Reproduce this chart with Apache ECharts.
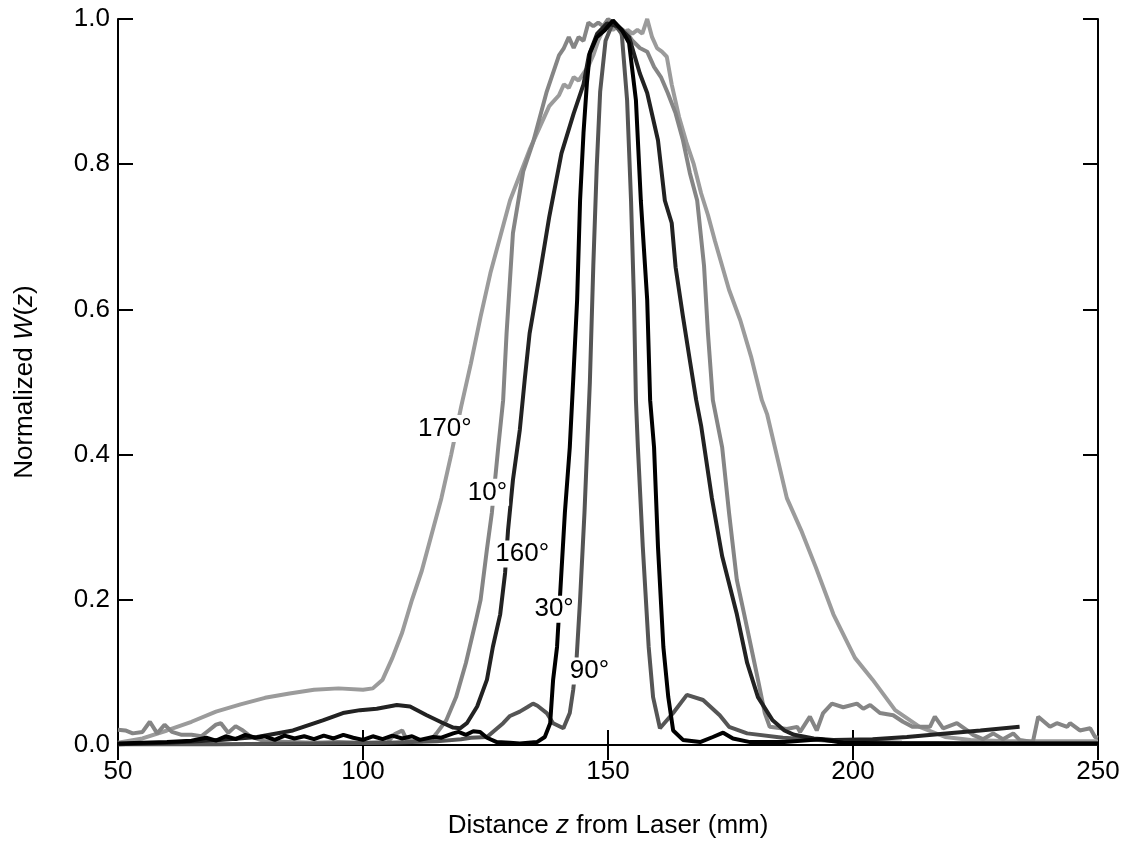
<!DOCTYPE html>
<html>
<head>
<meta charset="utf-8">
<script src="https://cdn.jsdelivr.net/npm/echarts@6/dist/echarts.min.js"></script>
<style>
  html, body { margin: 0; padding: 0; background: #fff; }
  #chart { width: 1125px; height: 846px; }
</style>
</head>
<body>
<div id="chart"></div>
<script>
// 轴刻度
var xTicks = [50, 100, 150, 200, 250];
var yTicks = [0, 0.2, 0.4, 0.6, 0.8, 1.0];

// 各角度曲线 [z(mm), W]
var w170 = [[50,0.003],[55,0.009],[60,0.02],[65,0.032],[70,0.046],[75,0.056],[80,0.065],[85,0.071],[90,0.076],[95,0.078],[100,0.076],[102,0.078],[104,0.09],[106,0.12],[108,0.155],[110,0.2],[112,0.24],[114,0.29],[116,0.34],[118,0.4],[120,0.465],[122,0.525],[124,0.59],[126,0.65],[128,0.7],[130,0.75],[132,0.785],[134,0.82],[136,0.85],[138,0.88],[140,0.895],[141,0.91],[142,0.905],[143,0.92],[144,0.915],[145,0.925],[146,0.935],[147,0.95],[148,0.97],[149,0.985],[150,0.99],[151,0.985],[152,0.99],[153,0.975],[154,0.985],[155,0.98],[156,0.985],[157,0.98],[158,1.0],[159,0.975],[160,0.96],[161,0.955],[162,0.948],[163,0.91],[164.5,0.865],[166,0.83],[167.5,0.8],[169,0.76],[170.4,0.73],[171.8,0.695],[174.7,0.627],[177,0.585],[179.2,0.535],[181.4,0.475],[182.5,0.455],[186.5,0.34],[189.4,0.296],[192.4,0.245],[196,0.18],[200.4,0.12],[204,0.09],[208.6,0.048],[213.6,0.025],[218.8,0.011],[224,0.007],[232,0.005],[250,0.005]];

var w10 = [[50,0.021],[51.5,0.02],[53,0.016],[55,0.018],[56.5,0.032],[58,0.016],[59.5,0.028],[61,0.018],[63,0.014],[65,0.014],[67,0.012],[68.5,0.02],[70,0.028],[71,0.03],[72.5,0.017],[74,0.026],[75.5,0.02],[77,0.012],[80,0.005],[85,0.004],[90,0.003],[95,0.004],[100,0.003],[105,0.004],[106.5,0.015],[108,0.02],[109,0.006],[112,0.005],[114,0.008],[115,0.016],[117,0.034],[119,0.066],[121,0.113],[123,0.17],[124,0.2],[125.3,0.27],[126.3,0.32],[127.6,0.41],[128.6,0.475],[129.3,0.567],[130.6,0.705],[132.7,0.79],[134.7,0.83],[137.5,0.9],[139,0.93],[140,0.95],[141,0.96],[142,0.975],[143,0.96],[144,0.975],[145,0.97],[146,0.995],[147,0.99],[148,0.995],[149,0.99],[150,1.0],[152,0.99],[153,0.985],[154,0.98],[155,0.97],[156.5,0.96],[158,0.955],[159.4,0.934],[160.8,0.92],[162.2,0.898],[163.8,0.87],[165.3,0.833],[166.7,0.788],[168.2,0.75],[169.6,0.66],[170.4,0.567],[171.4,0.475],[173.3,0.41],[174.7,0.32],[176.3,0.227],[177.8,0.18],[179.2,0.135],[180.6,0.09],[182,0.044],[183,0.025],[186.5,0.022],[188.6,0.025],[189.2,0.018],[191.2,0.039],[192.6,0.02],[193.9,0.044],[195.7,0.057],[198,0.052],[200.8,0.057],[202.1,0.05],[203.5,0.055],[205.5,0.044],[208.2,0.041],[210.2,0.032],[212.2,0.025],[215.7,0.025],[216.7,0.039],[218.4,0.023],[221.2,0.03],[223.3,0.02],[224.5,0.014],[226.5,0.008],[228.6,0.016],[230.6,0.008],[232.7,0.016],[234,0.007],[236.7,0.004],[237.8,0.039],[240.2,0.025],[241.6,0.03],[243.7,0.025],[244.3,0.03],[246.3,0.02],[248.4,0.023],[249.4,0.011],[250,0.01]];

var w90 = [[50,0.001],[70,0.001],[90,0.002],[105,0.003],[115,0.005],[120,0.008],[122,0.01],[125.3,0.011],[126.5,0.018],[128.6,0.03],[130,0.04],[132,0.046],[133.5,0.052],[134.7,0.057],[135.6,0.054],[137.5,0.044],[138.8,0.03],[140.9,0.023],[142.2,0.044],[142.9,0.076],[143.6,0.12],[144.3,0.2],[145.2,0.32],[146.3,0.5],[147,0.66],[147.7,0.796],[148.4,0.9],[149.5,0.97],[151,0.995],[152.8,0.98],[153.9,0.888],[154.7,0.75],[155.3,0.613],[155.7,0.475],[156.1,0.41],[157.1,0.273],[158.3,0.135],[159.2,0.066],[160.6,0.023],[163.3,0.044],[166.1,0.069],[169.4,0.062],[172.8,0.041],[174.7,0.025],[178.4,0.016],[185.7,0.01],[197,0.005],[210,0.003],[230,0.002],[250,0.002]];

var w160 = [[50,0.001],[60,0.003],[66,0.005],[70.8,0.007],[78.4,0.011],[85.7,0.02],[91.8,0.034],[95.9,0.044],[99.4,0.048],[102.8,0.05],[106.9,0.055],[109.6,0.053],[113,0.041],[116.4,0.03],[118.4,0.024],[119.8,0.023],[121.2,0.03],[123.3,0.053],[125.3,0.09],[126.5,0.135],[128,0.18],[129,0.237],[129.6,0.296],[130.6,0.365],[132,0.434],[133,0.503],[134,0.567],[136,0.645],[138,0.727],[140.5,0.815],[143,0.87],[145,0.91],[146.1,0.95],[147.8,0.98],[149.8,0.994],[152,0.99],[154.3,0.975],[156.5,0.925],[158,0.898],[160.2,0.833],[161.6,0.75],[163,0.719],[163.8,0.658],[165.3,0.59],[166.7,0.53],[168,0.475],[169,0.44],[171.2,0.34],[173.3,0.26],[176.3,0.18],[178.4,0.113],[180.6,0.066],[183.6,0.034],[186,0.02],[188,0.014],[192,0.009],[196,0.007],[204,0.008],[211,0.011],[219,0.016],[226,0.02],[234,0.025]];

var w30 = [[50,0.002],[55,0.003],[60,0.004],[65,0.006],[68,0.01],[70,0.006],[72,0.012],[74,0.008],[76,0.014],[78,0.01],[80,0.012],[82,0.007],[84,0.013],[86,0.009],[88,0.012],[90,0.008],[92,0.013],[94,0.009],[96,0.014],[98,0.01],[100,0.007],[102,0.012],[104,0.008],[106,0.013],[108,0.009],[110,0.012],[111.6,0.007],[114.3,0.011],[116,0.01],[118.4,0.016],[119.5,0.018],[121,0.014],[122.5,0.019],[123.9,0.018],[125.3,0.01],[127.3,0.004],[130,0.003],[132,0.002],[135.5,0.004],[137.1,0.011],[138.2,0.03],[138.8,0.09],[139.6,0.135],[140.2,0.204],[141.2,0.32],[142.2,0.41],[142.9,0.503],[143.7,0.613],[144.3,0.75],[145,0.843],[145.7,0.912],[146.3,0.953],[147.7,0.975],[149.4,0.985],[151,0.998],[152.8,0.985],[154.3,0.967],[155.7,0.888],[156.7,0.75],[158,0.613],[158.6,0.475],[159.4,0.41],[160.2,0.273],[161.3,0.135],[162.3,0.066],[163.3,0.02],[165.3,0.007],[168.8,0.004],[171.4,0.011],[173.5,0.017],[175.5,0.009],[179,0.004],[186,0.004],[193.3,0.008],[198,0.003],[210,0.002],[230,0.002],[250,0.002]];

// 曲线标注
var labelNames = ['170°', '10°', '160°', '30°', '90°'];
var labelZ = [116.7, 125.4, 132.5, 139.0, 146.2];
var labelW = [0.436, 0.348, 0.263, 0.187, 0.102];

var FONT = '"Liberation Sans", Arial, sans-serif';

function lineSeries(name, data, color) {
    return {
        name: name,
        type: 'line',
        data: data,
        showSymbol: false,
        symbol: 'none',
        smooth: false,
        lineStyle: { color: color, width: 4 },
        xAxisIndex: 0,
        yAxisIndex: 0,
        z: 2
    };
}

var labelData = [];
for (var i = 0; i < labelNames.length; i++) {
    labelData.push({ name: labelNames[i], value: [labelZ[i], labelW[i]] });
}

var chart = echarts.init(document.getElementById('chart'), null, { renderer: 'canvas' });
var option = {
    animation: false,
    backgroundColor: '#fff',
    grid: { left: 118, right: 27, top: 19, bottom: 101, containLabel: false },
    xAxis: [{
        type: 'value', min: 50, max: 250, interval: 50, position: 'bottom',
        name: 'Distance {i|z} from Laser (mm)',
        nameLocation: 'middle', nameGap: 68,
        nameTextStyle: {
            fontFamily: FONT, fontSize: 26, color: '#000',
            rich: { i: { fontFamily: FONT, fontSize: 26, fontStyle: 'italic', color: '#000' } }
        },
        axisLine: { show: true, lineStyle: { color: '#000', width: 2 } },
        axisTick: { show: true, inside: true, length: 15, lineStyle: { color: '#000', width: 2 } },
        axisLabel: { fontFamily: FONT, fontSize: 26, color: '#000', margin: 14 },
        splitLine: { show: false }
    }, {
        type: 'value', min: 50, max: 250, interval: 50, position: 'top',
        axisLine: { show: true, lineStyle: { color: '#000', width: 2 } },
        axisTick: { show: true, inside: true, length: 15, lineStyle: { color: '#000', width: 2 } },
        axisLabel: { show: false },
        splitLine: { show: false }
    }],
    yAxis: [{
        type: 'value', min: 0, max: 1, interval: 0.2, position: 'left',
        name: 'Normalized {i|W}({i|z})',
        nameLocation: 'middle', nameGap: 80, nameRotate: 90,
        nameTextStyle: {
            fontFamily: FONT, fontSize: 26, color: '#000',
            rich: { i: { fontFamily: FONT, fontSize: 26, fontStyle: 'italic', color: '#000' } }
        },
        axisLine: { show: true, lineStyle: { color: '#000', width: 2 } },
        axisTick: { show: true, inside: true, length: 15, lineStyle: { color: '#000', width: 2 } },
        axisLabel: {
            fontFamily: FONT, fontSize: 26, color: '#000', margin: 8,
            formatter: function (v) { return v.toFixed(1); }
        },
        splitLine: { show: false }
    }, {
        type: 'value', min: 0, max: 1, interval: 0.2, position: 'right',
        axisLine: { show: true, lineStyle: { color: '#000', width: 2 } },
        axisTick: { show: true, inside: true, length: 15, lineStyle: { color: '#000', width: 2 } },
        axisLabel: { show: false },
        splitLine: { show: false }
    }],
    series: [
        lineSeries('170°', w170, '#9b9b9b'),
        lineSeries('10°', w10, '#858585'),
        lineSeries('90°', w90, '#555555'),
        lineSeries('160°', w160, '#222222'),
        lineSeries('30°', w30, '#000000'),
        {
            type: 'scatter',
            data: labelData,
            symbol: 'rect',
            symbolSize: 1,
            itemStyle: { color: '#fff', opacity: 1 },
            emphasis: { disabled: true },
            xAxisIndex: 0,
            yAxisIndex: 0,
            z: 10,
            zlevel: 1,
            label: {
                show: true,
                position: 'inside',
                formatter: '{b}',
                fontFamily: FONT,
                fontSize: 26,
                color: '#000',
                opacity: 1,
                backgroundColor: '#fff',
                padding: [1, 2, 0, 2]
            }
        }
    ]
};
chart.setOption(option);
window.onresize = chart.resize;
</script>
</body>
</html>
